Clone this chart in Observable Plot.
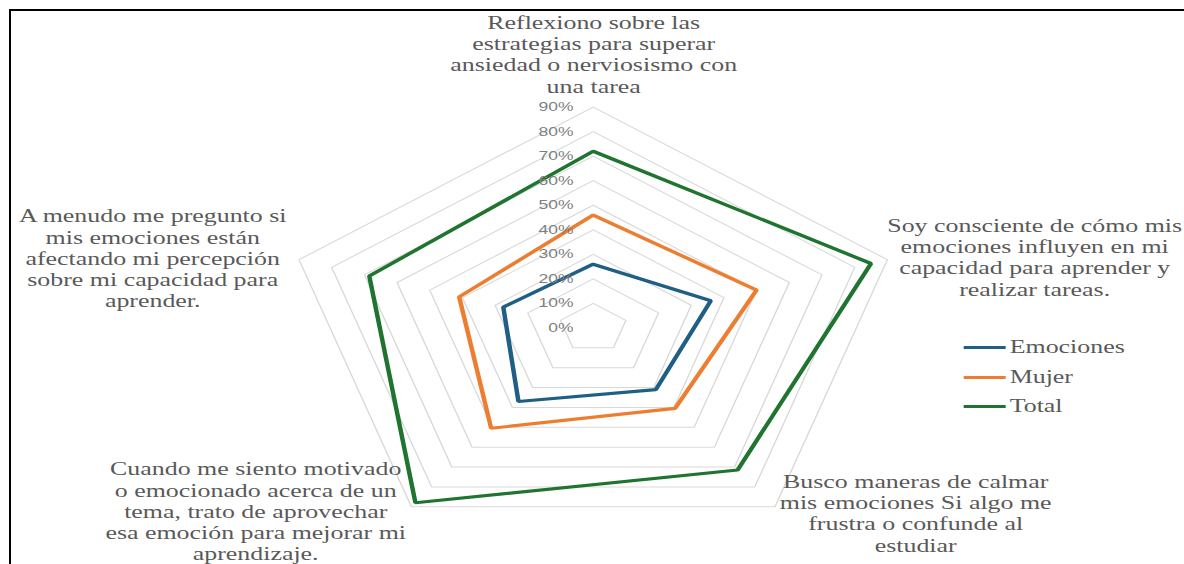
<!DOCTYPE html>
<html><head><meta charset="utf-8">
<script src="https://cdn.jsdelivr.net/npm/d3@7"></script>
<script src="https://cdn.jsdelivr.net/npm/@observablehq/plot@0.6"></script>
<style>
html,body{margin:0;padding:0;background:#fff;overflow:hidden}
#wrap{position:relative;width:1184px;height:564px;overflow:hidden;background:#fff}
#frame{position:absolute;left:9px;top:9px;right:-10px;bottom:-10px;border-top:2px solid #000;border-left:2px solid #000;pointer-events:none}
#chart svg{transform:scaleX(1.4);transform-origin:0 0;display:block;max-width:none !important}
</style></head><body>
<div id="wrap"><div id="chart"></div><div id="frame"></div></div>
<script>
// ---- data ----
const categories = [
  "Reflexiono sobre las\nestrategias para superar\nansiedad o nerviosismo con\nuna tarea",
  "Soy consciente de cómo mis\nemociones influyen en mi\ncapacidad para aprender y\nrealizar tareas.",
  "Busco maneras de calmar\nmis emociones Si algo me\nfrustra o confunde al\nestudiar",
  "Cuando me siento motivado\no emocionado acerca de un\ntema, trato de aprovechar\nesa emoción para mejorar mi\naprendizaje.",
  "A menudo me pregunto si\nmis emociones están\nafectando mi percepción\nsobre mi capacidad para\naprender."
];
const seriesNames = ["Emociones", "Mujer", "Total"];
const emociones = [26, 36, 31, 37, 27.5];
const mujer     = [46, 50, 40.5, 50.5, 41];
const total     = [72, 85, 71.5, 88, 68.5];
const tickValues = [0, 10, 20, 30, 40, 50, 60, 70, 80, 90];
const tickLabels = ["0%", "10%", "20%", "30%", "40%", "50%", "60%", "70%", "80%", "90%"];

// ---- layout / style ----
const STRETCH = 1.4;
const H = 564, W = 1184 / STRETCH;
const CX = 592.5 / STRETCH, CY = 327.5, K = 2.455; // px per 1%
const colors = ["#1f5f86", "#ed7d31", "#1f7430"];
const labelLayout = [ // centre of each label block, in page px
  {px: 593, py: 53.5}, {px: 1034, py: 256.5}, {px: 915, py: 512.5},
  {px: 255, py: 510.5}, {px: 152, py: 257.5}
];
const legendLayout = {x1: 963, x2: 1005, tx: 1009, rows: [347, 377, 406]};
const px2x = p => (p / STRETCH - CX) / K;
const py2y = p => (CY - p) / K;

const n = categories.length;
const ang = i => i * 2 * Math.PI / n;
const values = [emociones, mujer, total];
const seriesData = values.flatMap((arr, s) => arr.map((v, i) => ({series: seriesNames[s], i, v})));
const gridData = tickValues.filter(t => t > 0).flatMap(t => categories.map((c, i) => ({level: t, i})));
const labelData = categories.map((c, i) => ({text: c, ...labelLayout[i]}));
const legendData = seriesNames.map((s, j) => ({series: s, y: legendLayout.rows[j]}));
const ff = "'Liberation Serif', 'Times New Roman', serif";

const chart = Plot.plot({
  width: W, height: H,
  margin: 0,
  x: {type: "linear", domain: [-CX / K, (W - CX) / K], range: [0, W], axis: null},
  y: {type: "linear", domain: [CY / K, (CY - H) / K], range: [0, H], axis: null},
  color: {domain: seriesNames, range: colors},
  marks: [
    Plot.line(gridData, {
      x: d => d.level * Math.sin(ang(d.i)), y: d => d.level * Math.cos(ang(d.i)),
      z: "level", curve: "linear-closed", stroke: "#d9d9d9", strokeWidth: 1
    }),
    Plot.line(seriesData, {
      x: d => d.v * Math.sin(ang(d.i)), y: d => d.v * Math.cos(ang(d.i)),
      z: "series", stroke: "series", curve: "linear-closed",
      strokeWidth: 3.2, strokeLinejoin: "miter"
    }),
    Plot.text(tickValues, {
      x: 0, y: d => d, text: (d, j) => tickLabels[j], textAnchor: "end", dx: -14,
      fill: "#7f7f7f", fontSize: 12.5, fontFamily: "'Liberation Sans', Arial, sans-serif"
    }),
    Plot.text(labelData, {
      x: d => px2x(d.px), y: d => py2y(d.py), text: "text", lineAnchor: "middle",
      lineHeight: 1.15, fill: "#595959", fontSize: 18.5, fontFamily: ff
    }),
    Plot.link(legendData, {
      x1: px2x(legendLayout.x1), x2: px2x(legendLayout.x2),
      y1: d => py2y(d.y), y2: d => py2y(d.y), stroke: "series", strokeWidth: 3
    }),
    Plot.text(legendData, {
      x: px2x(legendLayout.tx), y: d => py2y(d.y), text: "series", textAnchor: "start",
      fill: "#595959", fontSize: 18.5, fontFamily: ff
    })
  ]
});
document.getElementById("chart").appendChild(chart);
</script>
</body></html>
